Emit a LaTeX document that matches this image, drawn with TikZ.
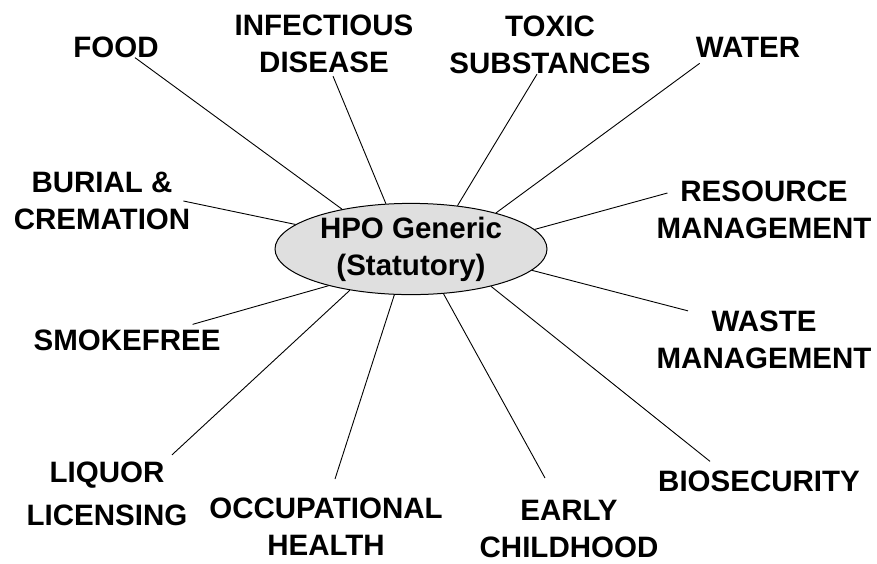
\documentclass[tikz,border=0pt]{standalone}
\usepackage{fontspec}
\setmainfont{Liberation Sans}
\usepackage{tikz}
\usetikzlibrary{shapes.geometric,positioning}

\tikzset{
  topic/.style={inner sep=0pt, align=center, font=\fontsize{29.5}{37}\selectfont\bfseries},
  hub/.style={ellipse, draw=black, line width=1pt, fill=gray!25, minimum width=272pt,
    minimum height=86pt, inner sep=0pt, align=center, font=\fontsize{29.5}{37}\selectfont\bfseries},
  spoke/.style={draw=black, line width=0.9pt}
}

\begin{document}
\begin{tikzpicture}[x=1pt,y=-1pt]
        \useasboundingbox (0,0) rectangle (877,563);
        % centre
        \node[hub] (hpo) at (411,249) {HPO Generic\\(Statutory)};
        % themen oben
        \node[topic] (food) at (116,47) {FOOD};
        \node[topic] (infect) at (324,44) {INFECTIOUS\\DISEASE};
        \node[topic] (toxic) at (550,45) {TOXIC\\SUBSTANCES};
        \node[topic] (water) at (748,47) {WATER};
        % themen links/rechts
        \node[topic] (burial) at (102,201) {BURIAL \&\\CREMATION};
        \node[topic] (smoke) at (127,340) {SMOKEFREE};
        \node[topic] (resource) at (764,210) {RESOURCE\\MANAGEMENT};
        \node[topic] (waste) at (764,340) {WASTE\\MANAGEMENT};
        % themen unten
        \node[topic] (liquor) at (107,494) {LIQUOR\\[6pt]LICENSING};
        \node[topic] (occup) at (326,527) {OCCUPATIONAL\\HEALTH};
        \node[topic] (early) at (569,529) {EARLY\\CHILDHOOD};
        \node[topic] (bio) at (759,481) {BIOSECURITY};
        % speichen
        \draw[spoke] (hpo.150) -- ([xshift=19pt]food.south);
        \draw[spoke] (hpo.119) -- ([xshift=9pt,yshift=-3pt]infect.south);
        \draw[spoke] (hpo.43) -- ([xshift=-13pt]toxic.south);
        \draw[spoke] (hpo.23) -- ([xshift=4pt,yshift=-6pt]water.south west);
        \draw[spoke] (hpo.168) -- ([xshift=-7pt]burial.east);
        \draw[spoke] (hpo.-156) -- ([xshift=-28pt,yshift=5pt]smoke.north east);
        \draw[spoke] (hpo.9) -- ([xshift=11pt,yshift=17pt]resource.west);
        \draw[spoke] (hpo.-10) -- ([xshift=-76pt]waste.north);
        \draw[spoke] (hpo.-146) -- ([xshift=65pt,yshift=7pt]liquor.north);
        \draw[spoke] (hpo.-110) -- ([xshift=9pt,yshift=19pt]occup.north);
        \draw[spoke] (hpo.-54) -- ([xshift=-24pt,yshift=22pt]early.north);
        \draw[spoke] (hpo.-25) -- ([xshift=-49pt,yshift=9pt]bio.north);
\end{tikzpicture}
\end{document}
